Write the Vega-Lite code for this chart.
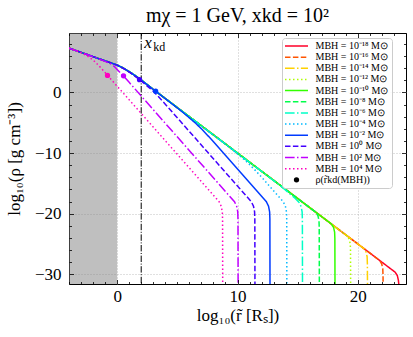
{
  "$schema": "https://vega.github.io/schema/vega-lite/v6.json",
  "width": 337,
  "height": 251,
  "autosize": "none",
  "padding": {"left": 69, "top": 33, "right": 7, "bottom": 53},
  "config": {
    "view": {"stroke": "black", "strokeWidth": 1},
    "font": "Liberation Serif",
    "axis": {
      "domain": false,
      "tickColor": "black",
      "tickWidth": 0.8,
      "labelColor": "black",
      "titleColor": "black",
      "labelFont": "Liberation Serif",
      "labelFontSize": 17,
      "titleFont": "Liberation Serif",
      "titleFontSize": 17,
      "titleFontWeight": "normal",
      "gridColor": "#b0b0b0",
      "gridDash": [1, 2],
      "gridWidth": 0.8,
      "labelOverlap": false,
      "labelFlush": false
    }
  },
  "title": {
    "text": "mχ = 1 GeV,   xkd = 10²",
    "font": "Liberation Serif",
    "fontSize": 20,
    "fontWeight": "normal",
    "color": "black",
    "baseline": "alphabetic",
    "offset": 8,
    "dy": 17,
    "anchor": "middle",
    "frame": "group"
  },
  "datasets": {
    "curves": [
      {"s":"-18","x":-4,"y":7.3},{"s":"-18","x":-3.5,"y":6.95},{"s":"-18","x":-3,"y":6.6},{"s":"-18","x":-2.5,"y":6.25},{"s":"-18","x":-2,"y":5.9},{"s":"-18","x":-1.5,"y":5.55},{"s":"-18","x":-1,"y":5.2},{"s":"-18","x":-0.5,"y":4.86},{"s":"-18","x":0,"y":4.5},{"s":"-18","x":0.5,"y":4.02},{"s":"-18","x":1,"y":3.42},{"s":"-18","x":1.5,"y":2.76},{"s":"-18","x":2,"y":2.03},{"s":"-18","x":2.5,"y":1.27},{"s":"-18","x":3,"y":0.5},
      {"s":"-18","x":23.1,"y":-29.65},{"s":"-18","x":23.28,"y":-30.22},{"s":"-18","x":23.37,"y":-31.0},{"s":"-18","x":23.4,"y":-31.6},

      {"s":"-16","x":-4,"y":7.3},{"s":"-16","x":-3.5,"y":6.95},{"s":"-16","x":-3,"y":6.6},{"s":"-16","x":-2.5,"y":6.25},{"s":"-16","x":-2,"y":5.9},{"s":"-16","x":-1.5,"y":5.55},{"s":"-16","x":-1,"y":5.2},{"s":"-16","x":-0.5,"y":4.86},{"s":"-16","x":0,"y":4.5},{"s":"-16","x":0.5,"y":4.02},{"s":"-16","x":1,"y":3.42},{"s":"-16","x":1.5,"y":2.76},{"s":"-16","x":2,"y":2.03},{"s":"-16","x":2.5,"y":1.27},{"s":"-16","x":3,"y":0.5},
      {"s":"-16","x":21.8,"y":-27.7},{"s":"-16","x":21.98,"y":-28.27},{"s":"-16","x":22.07,"y":-29.05},{"s":"-16","x":22.09,"y":-30.15},{"s":"-16","x":22.1,"y":-31.6},

      {"s":"-14","x":-4,"y":7.3},{"s":"-14","x":-3.5,"y":6.95},{"s":"-14","x":-3,"y":6.6},{"s":"-14","x":-2.5,"y":6.25},{"s":"-14","x":-2,"y":5.9},{"s":"-14","x":-1.5,"y":5.55},{"s":"-14","x":-1,"y":5.2},{"s":"-14","x":-0.5,"y":4.86},{"s":"-14","x":0,"y":4.5},{"s":"-14","x":0.5,"y":4.02},{"s":"-14","x":1,"y":3.42},{"s":"-14","x":1.5,"y":2.76},{"s":"-14","x":2,"y":2.03},{"s":"-14","x":2.5,"y":1.27},{"s":"-14","x":3,"y":0.5},
      {"s":"-14","x":20.5,"y":-25.75},{"s":"-14","x":20.68,"y":-26.32},{"s":"-14","x":20.77,"y":-27.1},{"s":"-14","x":20.79,"y":-28.2},{"s":"-14","x":20.8,"y":-31.6},

      {"s":"-12","x":-4,"y":7.3},{"s":"-12","x":-3.5,"y":6.95},{"s":"-12","x":-3,"y":6.6},{"s":"-12","x":-2.5,"y":6.25},{"s":"-12","x":-2,"y":5.9},{"s":"-12","x":-1.5,"y":5.55},{"s":"-12","x":-1,"y":5.2},{"s":"-12","x":-0.5,"y":4.86},{"s":"-12","x":0,"y":4.5},{"s":"-12","x":0.5,"y":4.02},{"s":"-12","x":1,"y":3.42},{"s":"-12","x":1.5,"y":2.76},{"s":"-12","x":2,"y":2.03},{"s":"-12","x":2.5,"y":1.27},{"s":"-12","x":3,"y":0.5},
      {"s":"-12","x":19.1,"y":-23.65},{"s":"-12","x":19.28,"y":-24.22},{"s":"-12","x":19.37,"y":-25.0},{"s":"-12","x":19.39,"y":-26.1},{"s":"-12","x":19.4,"y":-31.6},

      {"s":"-10","x":-4,"y":7.3},{"s":"-10","x":-3.5,"y":6.95},{"s":"-10","x":-3,"y":6.6},{"s":"-10","x":-2.5,"y":6.25},{"s":"-10","x":-2,"y":5.9},{"s":"-10","x":-1.5,"y":5.55},{"s":"-10","x":-1,"y":5.2},{"s":"-10","x":-0.5,"y":4.86},{"s":"-10","x":0,"y":4.5},{"s":"-10","x":0.5,"y":4.02},{"s":"-10","x":1,"y":3.42},{"s":"-10","x":1.5,"y":2.76},{"s":"-10","x":2,"y":2.03},{"s":"-10","x":2.5,"y":1.27},{"s":"-10","x":3,"y":0.5},
      {"s":"-10","x":17.8,"y":-21.7},{"s":"-10","x":17.98,"y":-22.27},{"s":"-10","x":18.07,"y":-23.05},{"s":"-10","x":18.09,"y":-24.15},{"s":"-10","x":18.1,"y":-31.6},

      {"s":"-8","x":-4,"y":7.3},{"s":"-8","x":-3.5,"y":6.95},{"s":"-8","x":-3,"y":6.6},{"s":"-8","x":-2.5,"y":6.25},{"s":"-8","x":-2,"y":5.9},{"s":"-8","x":-1.5,"y":5.55},{"s":"-8","x":-1,"y":5.2},{"s":"-8","x":-0.5,"y":4.86},{"s":"-8","x":0,"y":4.5},{"s":"-8","x":0.5,"y":4.02},{"s":"-8","x":1,"y":3.42},{"s":"-8","x":1.5,"y":2.76},{"s":"-8","x":2,"y":2.03},{"s":"-8","x":2.5,"y":1.27},{"s":"-8","x":3,"y":0.5},
      {"s":"-8","x":16.5,"y":-19.75},{"s":"-8","x":16.68,"y":-20.32},{"s":"-8","x":16.77,"y":-21.1},{"s":"-8","x":16.79,"y":-22.2},{"s":"-8","x":16.8,"y":-31.6},

      {"s":"-6","x":-4,"y":7.3},{"s":"-6","x":-3.5,"y":6.95},{"s":"-6","x":-3,"y":6.6},{"s":"-6","x":-2.5,"y":6.25},{"s":"-6","x":-2,"y":5.9},{"s":"-6","x":-1.5,"y":5.55},{"s":"-6","x":-1,"y":5.2},{"s":"-6","x":-0.5,"y":4.86},{"s":"-6","x":0,"y":4.5},{"s":"-6","x":0.5,"y":4.02},{"s":"-6","x":1,"y":3.42},{"s":"-6","x":1.5,"y":2.76},{"s":"-6","x":2,"y":2.03},{"s":"-6","x":2.5,"y":1.27},{"s":"-6","x":3,"y":0.5},
      {"s":"-6","x":13.5,"y":-15.3},{"s":"-6","x":14,"y":-16.12},{"s":"-6","x":14.5,"y":-17.0},{"s":"-6","x":14.8,"y":-17.5},{"s":"-6","x":15.1,"y":-18.1},{"s":"-6","x":15.28,"y":-18.8},{"s":"-6","x":15.37,"y":-19.7},{"s":"-6","x":15.39,"y":-20.9},{"s":"-6","x":15.4,"y":-31.6},

      {"s":"-4","x":-4,"y":7.3},{"s":"-4","x":-3.5,"y":6.95},{"s":"-4","x":-3,"y":6.6},{"s":"-4","x":-2.5,"y":6.25},{"s":"-4","x":-2,"y":5.9},{"s":"-4","x":-1.5,"y":5.55},{"s":"-4","x":-1,"y":5.2},{"s":"-4","x":-0.5,"y":4.86},{"s":"-4","x":0,"y":4.5},{"s":"-4","x":0.5,"y":4.02},{"s":"-4","x":1,"y":3.42},{"s":"-4","x":1.5,"y":2.76},{"s":"-4","x":2,"y":2.03},{"s":"-4","x":2.5,"y":1.27},{"s":"-4","x":3,"y":0.5},
      {"s":"-4","x":9,"y":-8.55},{"s":"-4","x":10,"y":-10.15},{"s":"-4","x":10.5,"y":-10.98},{"s":"-4","x":11,"y":-11.9},{"s":"-4","x":11.5,"y":-12.9},{"s":"-4","x":12,"y":-13.97},{"s":"-4","x":13.8,"y":-18.03},{"s":"-4","x":13.98,"y":-18.78},{"s":"-4","x":14.07,"y":-19.7},{"s":"-4","x":14.09,"y":-20.9},{"s":"-4","x":14.1,"y":-31.6},

      {"s":"-2","x":-4,"y":7.3},{"s":"-2","x":-3.5,"y":6.95},{"s":"-2","x":-3,"y":6.6},{"s":"-2","x":-2.5,"y":6.25},{"s":"-2","x":-2,"y":5.9},{"s":"-2","x":-1.5,"y":5.55},{"s":"-2","x":-1,"y":5.2},{"s":"-2","x":-0.5,"y":4.86},{"s":"-2","x":0,"y":4.5},{"s":"-2","x":0.5,"y":4.02},{"s":"-2","x":1,"y":3.42},{"s":"-2","x":1.5,"y":2.76},{"s":"-2","x":2,"y":2.03},{"s":"-2","x":2.5,"y":1.27},{"s":"-2","x":3,"y":0.5},
      {"s":"-2","x":4,"y":-1.02},{"s":"-2","x":5,"y":-2.56},{"s":"-2","x":5.5,"y":-3.35},{"s":"-2","x":6,"y":-4.2},{"s":"-2","x":6.5,"y":-5.05},{"s":"-2","x":7,"y":-6.0},{"s":"-2","x":7.5,"y":-7.05},{"s":"-2","x":8,"y":-8.125},{"s":"-2","x":12.4,"y":-18.03},{"s":"-2","x":12.58,"y":-18.78},{"s":"-2","x":12.67,"y":-19.7},{"s":"-2","x":12.69,"y":-20.9},{"s":"-2","x":12.7,"y":-31.6},

      {"s":"0","x":-4,"y":7.3},{"s":"0","x":-3.5,"y":6.95},{"s":"0","x":-3,"y":6.6},{"s":"0","x":-2.5,"y":6.25},{"s":"0","x":-2,"y":5.9},{"s":"0","x":-1.5,"y":5.55},{"s":"0","x":-1,"y":5.2},{"s":"0","x":-0.5,"y":4.86},{"s":"0","x":0,"y":4.5},{"s":"0","x":0.5,"y":3.98},{"s":"0","x":1,"y":3.36},{"s":"0","x":1.5,"y":2.66},{"s":"0","x":2,"y":1.88},{"s":"0","x":2.5,"y":1.05},{"s":"0","x":3,"y":0.2},{"s":"0","x":3.5,"y":-0.84},{"s":"0","x":4,"y":-1.94},
      {"s":"0","x":11.15,"y":-18.03},{"s":"0","x":11.33,"y":-18.78},{"s":"0","x":11.42,"y":-19.7},{"s":"0","x":11.44,"y":-20.9},{"s":"0","x":11.45,"y":-31.6},

      {"s":"2","x":-4,"y":7.3},{"s":"2","x":-3.5,"y":6.95},{"s":"2","x":-3,"y":6.6},{"s":"2","x":-2.5,"y":6.25},{"s":"2","x":-2,"y":5.88},{"s":"2","x":-1.5,"y":5.52},{"s":"2","x":-1,"y":5.12},{"s":"2","x":-0.5,"y":4.68},{"s":"2","x":-0.25,"y":4.3},{"s":"2","x":0,"y":3.78},{"s":"2","x":0.5,"y":2.77},{"s":"2","x":1,"y":1.66},
      {"s":"2","x":9.75,"y":-18.03},{"s":"2","x":9.93,"y":-18.78},{"s":"2","x":10.02,"y":-19.7},{"s":"2","x":10.04,"y":-20.9},{"s":"2","x":10.05,"y":-31.6},

      {"s":"4","x":-4,"y":7.3},{"s":"4","x":-3.5,"y":6.94},{"s":"4","x":-3,"y":6.55},{"s":"4","x":-2.5,"y":6.05},{"s":"4","x":-2,"y":5.35},{"s":"4","x":-1.5,"y":4.37},{"s":"4","x":-1,"y":3.27},{"s":"4","x":-0.5,"y":2.15},{"s":"4","x":0,"y":1.03},
      {"s":"4","x":8.47,"y":-18.03},{"s":"4","x":8.65,"y":-18.78},{"s":"4","x":8.74,"y":-19.7},{"s":"4","x":8.76,"y":-20.9},{"s":"4","x":8.77,"y":-31.6}
    ],
    "dots": [
      {"s":"-2","x":3.2,"y":0.2},
      {"s":"0","x":1.86,"y":2.1},
      {"s":"2","x":0.53,"y":2.74},
      {"s":"4","x":-0.8,"y":2.8}
    ]
  },
  "layer": [
    {
      "data": {"values": [{"a": -4, "b": 0}]},
      "mark": {"type": "rect", "color": "gray", "opacity": 0.5},
      "encoding": {
        "x": {"field": "a", "type": "quantitative",
          "scale": {"domain": [-4, 24], "nice": false, "zero": false},
          "axis": {
            "orient": "bottom",
            "values": [-4,-3,-2,-1,0,1,2,3,4,5,6,7,8,9,10,11,12,13,14,15,16,17,18,19,20,21,22,23,24],
            "grid": false,
            "zindex": 1,
            "tickSize": {"condition": {"test": "datum.value % 10 === 0", "value": -4.5}, "value": -2.5},
            "labelExpr": "datum.value % 10 === 0 ? datum.label : ''",
            "labelBaseline": "alphabetic",
            "labelPadding": 21.5,
            "title": "log₁₀(r̃ [Rₛ])",
            "titleX": 168.5,
            "titleY": 36,
            "titleAlign": "center",
            "titleBaseline": "alphabetic"
          }
        },
        "x2": {"field": "b"}
      }
    },
    {
      "data": {"name": "curves"},
      "mark": {"type": "line", "strokeWidth": 1.5, "clip": true},
      "encoding": {
        "x": {"field": "x", "type": "quantitative",
          "scale": {"domain": [-4, 24], "nice": false, "zero": false},
          "axis": {
            "orient": "top",
            "values": [-4,-3,-2,-1,0,1,2,3,4,5,6,7,8,9,10,11,12,13,14,15,16,17,18,19,20,21,22,23,24],
            "grid": false, "labels": false, "title": null, "zindex": 1,
            "tickSize": {"condition": {"test": "datum.value % 10 === 0", "value": -4.5}, "value": -2.5}
          }
        },
        "y": {"field": "y", "type": "quantitative",
          "scale": {"domain": [-31.6, 9.8], "nice": false, "zero": false},
          "axis": {
            "orient": "left",
            "values": [-30,-28,-26,-24,-22,-20,-18,-16,-14,-12,-10,-8,-6,-4,-2,0,2,4,6,8],
            "grid": false,
            "zindex": 1,
            "tickSize": {"condition": {"test": "datum.value % 10 === 0", "value": -4.5}, "value": -2.5},
            "labelExpr": "datum.value % 10 === 0 ? datum.label : ''",
            "labelPadding": 12.5,
            "labelAlign": "right",
            "labelBaseline": "middle",
            "title": "log₁₀(ρ [g cm⁻³])",
            "titleX": -54.5,
            "titleY": 125.5,
            "titleAngle": -90,
            "titleAlign": "center",
            "titleBaseline": "middle"
          }
        },
        "color": {"field": "s", "type": "nominal",
          "scale": {
            "domain": ["-18","-16","-14","-12","-10","-8","-6","-4","-2","0","2","4","kd"],
            "range": ["#ff0029","#ff5400","#ffd100","#afff00","#32ff00","#00ff4b","#00ffc7","#00b9ff","#003bff","#4300ff","#c100ff","#ff00bf","#000000"]
          },
          "legend": {
            "title": null,
            "orient": "none",
            "legendX": 213,
            "legendY": 5,
            "padding": 3,
            "fillColor": "rgba(255,255,255,0.85)",
            "strokeColor": "#cccccc",
            "cornerRadius": 3,
            "labelFont": "Liberation Serif",
            "labelFontSize": 10,
            "labelColor": "black",
            "symbolType": "M-2.3,0H2.3",
            "symbolSize": 100,
            "symbolStrokeWidth": 1.5,
            "symbolOffset": 6.5,
            "labelOffset": 14,
            "rowPadding": 1.15,
            "labelExpr": "datum.value == 'kd' ? 'ρ(r̃kd(MBH))' : 'MBH = 10' + replace(replace(replace(replace(replace(replace(replace(datum.value,'-','⁻'),'0','⁰'),'1','¹'),'2','²'),'4','⁴'),'6','⁶'),'8','⁸') + ' M⊙'",
            "encode": {"symbols": {"update": {
              "shape": {"signal": "datum.value == 'kd' ? 'circle' : 'M-2.3,0H2.3'"},
              "size": {"signal": "datum.value == 'kd' ? 28 : 100"},
              "fill": {"signal": "datum.value == 'kd' ? 'black' : 'transparent'"},
              "strokeWidth": {"signal": "datum.value == 'kd' ? 0 : 1.5"}
            }}}
          }
        },
        "strokeDash": {"field": "s", "type": "nominal",
          "scale": {
            "domain": ["-18","-16","-14","-12","-10","-8","-6","-4","-2","0","2","4","kd"],
            "range": [[1,0],[5.5,2.4],[9.6,2.4,1.5,2.4],[1.5,2.5],[1,0],[5.5,2.4],[9.6,2.4,1.5,2.4],[1.5,2.5],[1,0],[5.5,2.4],[9.6,2.4,1.5,2.4],[1.5,2.5],[1,0]]
          },
          "legend": {
            "title": null,
            "orient": "none",
            "legendX": 213,
            "legendY": 5,
            "padding": 3,
            "fillColor": "rgba(255,255,255,0.85)",
            "strokeColor": "#cccccc",
            "cornerRadius": 3,
            "labelFont": "Liberation Serif",
            "labelFontSize": 10,
            "labelColor": "black",
            "symbolType": "M-2.3,0H2.3",
            "symbolSize": 100,
            "symbolStrokeWidth": 1.5,
            "symbolOffset": 6.5,
            "labelOffset": 14,
            "rowPadding": 1.15,
            "labelExpr": "datum.value == 'kd' ? 'ρ(r̃kd(MBH))' : 'MBH = 10' + replace(replace(replace(replace(replace(replace(replace(datum.value,'-','⁻'),'0','⁰'),'1','¹'),'2','²'),'4','⁴'),'6','⁶'),'8','⁸') + ' M⊙'",
            "encode": {"symbols": {"update": {
              "shape": {"signal": "datum.value == 'kd' ? 'circle' : 'M-2.3,0H2.3'"},
              "size": {"signal": "datum.value == 'kd' ? 28 : 100"},
              "fill": {"signal": "datum.value == 'kd' ? 'black' : 'transparent'"},
              "strokeWidth": {"signal": "datum.value == 'kd' ? 0 : 1.5"}
            }}}
          }
        }
      }
    },
    {
      "data": {"values": [{"xk": 2}]},
      "mark": {"type": "rule", "color": "black", "strokeWidth": 1, "strokeDash": [6.4, 1.6, 1, 1.6]},
      "encoding": {
        "x": {"field": "xk", "type": "quantitative",
          "scale": {"domain": [-4, 24], "nice": false, "zero": false},
          "axis": {"orient": "bottom", "values": [0, 10, 20], "grid": true, "ticks": false, "labels": false, "domain": false, "title": null, "zindex": 0}
        }
      }
    },
    {
      "data": {"name": "dots"},
      "mark": {"type": "point", "filled": true, "size": 28, "opacity": 1},
      "encoding": {
        "x": {"field": "x", "type": "quantitative", "scale": {"domain": [-4, 24], "nice": false, "zero": false}, "axis": null},
        "y": {"field": "y", "type": "quantitative",
          "scale": {"domain": [-31.6, 9.8], "nice": false, "zero": false},
          "axis": {
            "orient": "right",
            "values": [-30,-28,-26,-24,-22,-20,-18,-16,-14,-12,-10,-8,-6,-4,-2,0,2,4,6,8],
            "grid": false, "labels": false, "title": null, "zindex": 1,
            "tickSize": {"condition": {"test": "datum.value % 10 === 0", "value": -4.5}, "value": -2.5}
          }
        },
        "color": {"field": "s", "type": "nominal", "legend": null}
      }
    },
    {
      "data": {"values": [{"x": 2.25, "y": 7.3, "t": "x"}]},
      "mark": {"type": "text", "font": "Liberation Serif", "fontSize": 17, "fontStyle": "italic", "align": "left", "baseline": "alphabetic", "color": "black"},
      "encoding": {
        "x": {"field": "x", "type": "quantitative", "scale": {"domain": [-4, 24], "nice": false, "zero": false}, "axis": null},
        "y": {"field": "y", "type": "quantitative",
          "scale": {"domain": [-31.6, 9.8], "nice": false, "zero": false},
          "axis": {"orient": "left", "values": [-30, -20, -10, 0], "grid": true, "ticks": false, "labels": false, "domain": false, "title": null, "zindex": 0}
        },
        "text": {"field": "t"}
      }
    },
    {
      "data": {"values": [{"x": 3.0, "y": 6.75, "t": "kd"}]},
      "mark": {"type": "text", "font": "Liberation Serif", "fontSize": 12, "align": "left", "baseline": "alphabetic", "color": "black"},
      "encoding": {
        "x": {"field": "x", "type": "quantitative", "scale": {"domain": [-4, 24], "nice": false, "zero": false}, "axis": null},
        "y": {"field": "y", "type": "quantitative", "scale": {"domain": [-31.6, 9.8], "nice": false, "zero": false}, "axis": null},
        "text": {"field": "t"}
      }
    }
  ],
  "resolve": {"axis": {"x": "independent", "y": "independent"}}
}
